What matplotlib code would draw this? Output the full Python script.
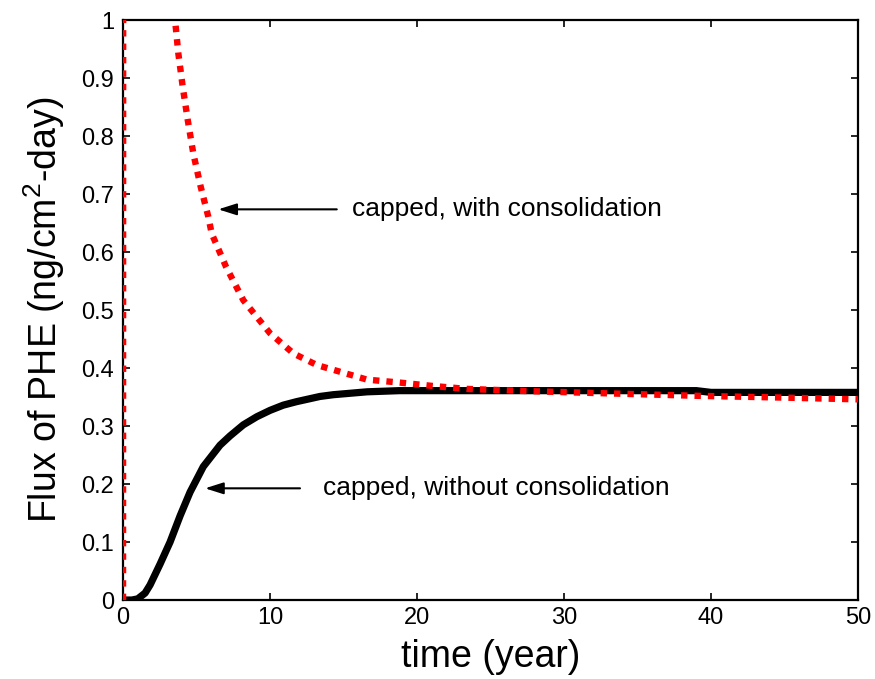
import matplotlib
matplotlib.use("Agg")
import matplotlib.pyplot as plt

plt.rcParams['font.family'] = ['Liberation Sans', 'DejaVu Sans']
plt.rcParams['mathtext.fontset'] = 'custom'
plt.rcParams['mathtext.rm'] = 'Liberation Sans'
plt.rcParams['mathtext.it'] = 'Liberation Sans'

# capped, without consolidation (black solid)
t_black = [0.0, 0.6, 1.0, 1.5, 1.84, 2.52, 3.2, 3.88, 4.56, 5.46, 6.6, 7.28, 8.18, 9.1,
           10.0, 10.9, 11.8, 13.4, 14.3, 16.6, 18.8, 22.0, 30.0, 39.0, 40.0, 50.0]
flux_black = [0.0, 0.0, 0.002, 0.012, 0.026, 0.062, 0.100, 0.145, 0.186, 0.230, 0.267,
              0.283, 0.302, 0.316, 0.327, 0.336, 0.342, 0.351, 0.354, 0.359, 0.361,
              0.361, 0.361, 0.361, 0.358, 0.358]

# capped, with consolidation (red dotted)
t_red = [0.0, 0.05, 1.0, 2.0, 3.0, 3.54, 3.76, 4.06, 4.40, 4.78, 5.28, 5.8, 6.03, 7.0,
         8.18, 10.0, 11.6, 13.2, 14.3, 16.6, 18.8, 21.1, 23.4, 25.6, 27.9, 32.0,
         39.25, 45.0, 50.0]
flux_red = [0.0, 6.0, 3.0, 1.8, 1.25, 1.0, 0.943, 0.885, 0.828, 0.770, 0.713, 0.661,
            0.632, 0.575, 0.517, 0.460, 0.425, 0.405, 0.397, 0.380, 0.375, 0.369, 0.364,
            0.362, 0.360, 0.357, 0.352, 0.349, 0.346]

xticks = [0, 10, 20, 30, 40, 50]
yticks = [0, 0.1, 0.2, 0.3, 0.4, 0.5, 0.6, 0.7, 0.8, 0.9, 1]
ytick_labels = ['0', '0.1', '0.2', '0.3', '0.4', '0.5', '0.6', '0.7', '0.8', '0.9', '1']

fig = plt.figure(figsize=(8.75, 6.79), dpi=100)
ax = fig.add_axes([0.1406, 0.1163, 0.84, 0.8542])

ax.plot(t_black, flux_black, color='black', lw=5.2, solid_capstyle='butt',
        solid_joinstyle='round', zorder=2)
ax.plot(t_red, flux_red, color='#ff0000', lw=4.6, dashes=(1, 1.1),
        dash_capstyle='butt', zorder=3)

ax.set_xlim(0, 50)
ax.set_ylim(0, 1)
ax.set_xticks(xticks)
ax.set_yticks(yticks)
ax.set_yticklabels(ytick_labels)
ax.tick_params(direction='in', length=5, width=1.2, top=True, right=True,
               labelsize=17)
ax.tick_params(axis='y', pad=6.5)
ax.tick_params(axis='x', pad=5)
for s in ax.spines.values():
    s.set_linewidth(1.6)

ax.set_xlabel('time (year)', fontsize=27, labelpad=7)
ax.set_ylabel('Flux of PHE (ng/cm$^2$-day)', fontsize=27, labelpad=10)

arrow_kw = dict(arrowstyle='-|>,head_length=1.1,head_width=0.35', color='black',
                lw=1.5, shrinkA=0, shrinkB=0)
ax.annotate('', xy=(6.48, 0.6736), xytext=(14.54, 0.6736), arrowprops=arrow_kw)
ax.text(15.56, 0.6736, 'capped, with consolidation', fontsize=19,
        va='center', ha='left')
ax.annotate('', xy=(5.58, 0.1926), xytext=(12.04, 0.1926), arrowprops=arrow_kw)
ax.text(13.63, 0.1926, 'capped, without consolidation', fontsize=19,
        va='center', ha='left')

fig.savefig('out.png', dpi=100)
